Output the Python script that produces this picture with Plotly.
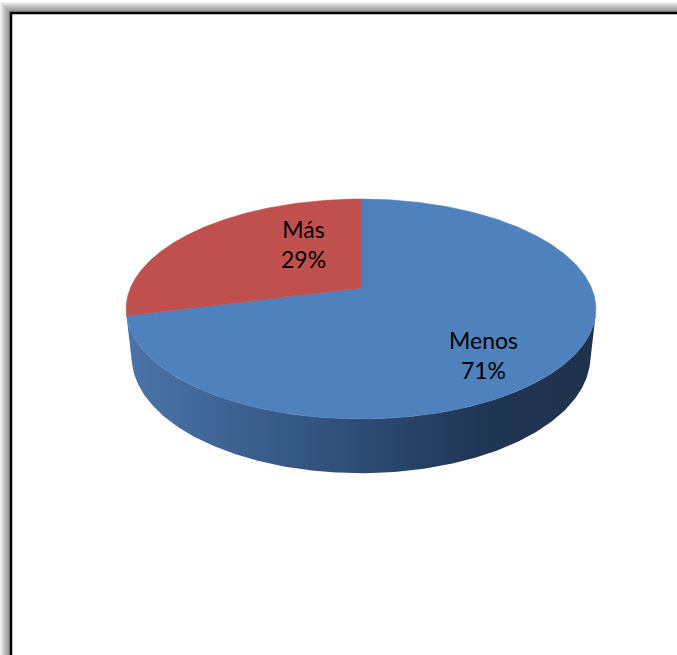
import numpy as np
import plotly.graph_objects as go

# ---- data -------------------------------------------------------------
categories = ["Menos", "Más"]
values = [71, 29]

# ---- styling -----------------------------------------------------------
top_colors = ["#4F81BD", "#C0504D"]
side_scales = [
    [[0.0, "rgb(76,116,168)"], [0.25, "rgb(60,96,144)"], [0.5, "rgb(45,76,116)"],
     [0.75, "rgb(33,54,84)"], [1.0, "rgb(31,50,77)"]],
    [[0.0, "rgb(160,66,63)"], [1.0, "rgb(120,48,46)"]],
]
label_pos = {"Menos": (483, 355), "Más": (303, 244)}   # label centres (px)

W, H = 677, 655

# ---- 3-D pie geometry (perspective view of a flat cylinder) ------------
CX, CY = 361, 288          # screen position of the pie centre
FOCAL = 1071.0             # projection scale
DIST = 4.645               # camera distance (in pie radii)
ELEV = np.radians(27.35)   # camera elevation
THICK = 0.235              # pie thickness (in pie radii)
S, C = np.sin(ELEV), np.cos(ELEV)


def project(X, Y, Z):
    depth = DIST - S * Y - C * Z
    up = C * Y - S * Z
    return CX + FOCAL * X / depth, CY - FOCAL * up / depth


def rim(phi_deg, y):
    phi = np.radians(phi_deg)
    return project(np.sin(phi), np.full_like(phi, y), -np.cos(phi))


total = float(sum(values))
bounds = np.concatenate([[0.0], np.cumsum(values) / total * 360.0])

# the cylinder wall faces the camera where -cos(phi) > 1/(DIST*cos(elev))
lim = np.degrees(np.arccos(-1.0 / (DIST * C)))
vis_lo, vis_hi = 360.0 - lim, lim
vis_lo, vis_hi = min(vis_lo, vis_hi), max(vis_lo, vis_hi)

fig = go.Figure()

# side walls
for i, name in enumerate(categories):
    a, b = max(bounds[i], vis_lo), min(bounds[i + 1], vis_hi)
    if b <= a:
        continue
    phi = np.linspace(a, b, 240)
    xt, yt = rim(phi, 0.0)
    xb, yb = rim(phi[::-1], -THICK)
    fig.add_trace(go.Scatter(
        x=np.concatenate([xt, xb, xt[:1]]), y=np.concatenate([yt, yb, yt[:1]]),
        mode="lines", line=dict(width=0), fill="toself",
        fillgradient=dict(type="horizontal", colorscale=side_scales[i]),
        hoverinfo="skip", showlegend=False))

# top faces
for i, name in enumerate(categories):
    phi = np.linspace(bounds[i], bounds[i + 1], 400)
    xa, ya = rim(phi, 0.0)
    x0, y0 = project(0.0, 0.0, 0.0)
    fig.add_trace(go.Scatter(
        x=np.concatenate([[x0], xa, [x0]]), y=np.concatenate([[y0], ya, [y0]]),
        mode="lines", line=dict(width=0.6, color=top_colors[i]), fill="toself",
        fillcolor=top_colors[i], name=name, hoverinfo="skip", showlegend=False))

# data labels
for name, v in zip(categories, values):
    lx, ly = label_pos[name]
    fig.add_annotation(x=lx, y=ly, xref="x", yref="y", showarrow=False,
                       text=f"{name}<br>{v / total * 100:.0f}%",
                       font=dict(family="Lato", size=23, color="black"),
                       xanchor="center", yanchor="middle", align="center")

# chart frame with soft shadow
shapes = []
for i in range(11, 0, -1):
    shapes.append(dict(type="rect", xref="x", yref="y", layer="below",
                       x0=11 - i, y0=13 - i, x1=W + 40, y1=H + 40,
                       fillcolor="rgba(0,0,0,0.05)", line=dict(width=0)))
shapes.append(dict(type="rect", xref="x", yref="y", layer="below",
                   x0=11, y0=13, x1=W + 40, y1=H + 40,
                   fillcolor="white", line=dict(color="black", width=2.5)))

fig.update_layout(
    width=W, height=H, margin=dict(l=0, r=0, t=0, b=0),
    paper_bgcolor="white", plot_bgcolor="rgba(0,0,0,0)",
    shapes=shapes, showlegend=False,
    xaxis=dict(range=[0, W], visible=False, fixedrange=True),
    yaxis=dict(range=[H, 0], visible=False, fixedrange=True),
)

fig.write_html("out.html")
